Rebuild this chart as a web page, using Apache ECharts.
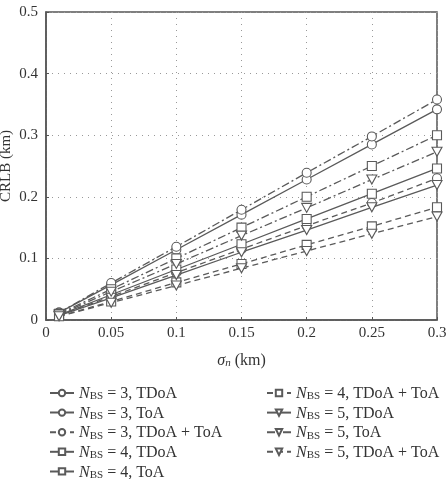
<!DOCTYPE html>
<html>
<head>
<meta charset="utf-8">
<script src="https://cdn.jsdelivr.net/npm/echarts@6/dist/echarts.min.js"></script>
<style>
html,body{margin:0;padding:0;background:#fff;}
#main{width:447px;height:479px;}
</style>
</head>
<body>
<div id="main"></div>
<script>
// sigma_n values (km)
var sigma = [0.01, 0.05, 0.1, 0.15, 0.2, 0.25, 0.3];

// CRLB (km)
var n3Tdoa    = [0.012, 0.057, 0.114, 0.171, 0.228, 0.285, 0.342];
var n3Toa     = [0.012, 0.060, 0.119, 0.179, 0.239, 0.298, 0.358];
var n3Both    = [0.008, 0.038, 0.077, 0.115, 0.153, 0.190, 0.230];
var n4Tdoa    = [0.008, 0.041, 0.082, 0.123, 0.164, 0.205, 0.246];
var n4Toa     = [0.010, 0.050, 0.100, 0.150, 0.200, 0.250, 0.300];
var n4Both    = [0.006, 0.030, 0.061, 0.091, 0.122, 0.152, 0.183];
var n5Tdoa    = [0.007, 0.036, 0.073, 0.110, 0.146, 0.183, 0.219];
var n5Toa     = [0.009, 0.046, 0.091, 0.137, 0.182, 0.228, 0.273];
var n5Both    = [0.006, 0.028, 0.056, 0.084, 0.112, 0.140, 0.168];

var xTicks = ['0', '0.05', '0.1', '0.15', '0.2', '0.25', '0.3'];

var FONT = 'Liberation Serif';
var GREY = '#5a5a5a';
var SOLID = 'solid';
var DASHDOT = [8, 3, 2, 3];
var DASHED = [6, 4];
var TRI_DOWN = 'path://M0,0 L10,0 L5,9 Z';

function mk(name, vals, symbol, lineType) {
    return {
        name: name,
        type: 'line',
        data: sigma.map(function (s, i) { return [s, vals[i]]; }),
        symbol: symbol,
        symbolSize: symbol == TRI_DOWN ? [10, 9] : 9,
        showSymbol: true,
        lineStyle: { color: GREY, width: 1.3, type: lineType },
        itemStyle: { color: '#fff', borderColor: GREY, borderWidth: 1.1 },
        emphasis: { disabled: true },
        z: 2
    };
}

var series = [
    mk('NBS = 3, TDoA', n3Tdoa, 'circle', SOLID),
    mk('NBS = 3, ToA', n3Toa, 'circle', DASHDOT),
    mk('NBS = 3, TDoA + ToA', n3Both, 'circle', DASHED),
    mk('NBS = 4, TDoA', n4Tdoa, 'rect', SOLID),
    mk('NBS = 4, ToA', n4Toa, 'rect', DASHDOT),
    mk('NBS = 4, TDoA + ToA', n4Both, 'rect', DASHED),
    mk('NBS = 5, TDoA', n5Tdoa, TRI_DOWN, SOLID),
    mk('NBS = 5, ToA', n5Toa, TRI_DOWN, DASHDOT),
    mk('NBS = 5, TDoA + ToA', n5Both, TRI_DOWN, DASHED)
];
var names = series.map(function (s) { return s.name; });

var legendRich = {
    i: { fontFamily: FONT, fontSize: 16, fontStyle: 'italic', color: '#333', lineHeight: 18, verticalAlign: 'bottom' },
    s: { fontFamily: FONT, fontSize: 11, color: '#333', lineHeight: 11, verticalAlign: 'bottom' },
    t: { fontFamily: FONT, fontSize: 16, color: '#333', lineHeight: 18, verticalAlign: 'bottom' }
};
function legendFmt(name) {
    return '{i|N}{s|BS}{t|' + name.substring(3) + '}';
}
function legendBox(left, data) {
    return {
        data: data,
        orient: 'vertical',
        left: left,
        top: 381,
        height: 120,
        itemWidth: 24,
        itemHeight: 8,
        itemGap: 3.6,
        formatter: legendFmt,
        textStyle: { rich: legendRich },
        selectedMode: false
    };
}

var myChart = echarts.init(document.getElementById('main'));
myChart.setOption({
    animation: false,
    backgroundColor: '#fff',
    grid: {
        left: 46, right: 10, top: 12, bottom: 159,
        show: true, borderColor: '#555', borderWidth: 1.5,
        outerBoundsMode: 'none',
        containLabel: false
    },
    legend: [
        legendBox(44, names.slice(0, 5)),
        legendBox(261, names.slice(5))
    ],
    xAxis: {
        type: 'value',
        min: 0, max: 0.3, interval: 0.05,
        name: '{g|σ}{n|n}{t| (km)}',
        nameLocation: 'middle',
        nameGap: 31,
        nameMoveOverlap: false,
        nameTextStyle: {
            rich: {
                g: { fontFamily: FONT, fontSize: 16, fontStyle: 'italic', color: '#333', lineHeight: 18, verticalAlign: 'bottom' },
                n: { fontFamily: FONT, fontSize: 11, fontStyle: 'italic', color: '#333', lineHeight: 11, verticalAlign: 'bottom' },
                t: { fontFamily: FONT, fontSize: 16, color: '#333', lineHeight: 18, verticalAlign: 'bottom' }
            }
        },
        axisLine: { show: true, lineStyle: { color: '#555', width: 1.5 } },
        axisTick: { show: true, inside: true, length: 3, lineStyle: { color: '#555' } },
        axisLabel: {
            fontFamily: FONT, fontSize: 15, color: '#333', margin: 6,
            formatter: function (v) {
                var idx = Math.round(v / 0.05);
                return xTicks[idx];
            }
        },
        splitLine: { show: true, lineStyle: { color: '#999', type: [1, 5], width: 1 } }
    },
    yAxis: {
        type: 'value',
        min: 0, max: 0.5, interval: 0.1,
        name: 'CRLB (km)',
        nameLocation: 'middle',
        nameGap: 32,
        nameMoveOverlap: false,
        nameTextStyle: { fontFamily: FONT, fontSize: 15, color: '#333' },
        axisLine: { show: true, lineStyle: { color: '#555', width: 1.5 } },
        axisTick: { show: true, inside: true, length: 3, lineStyle: { color: '#555' } },
        axisLabel: {
            fontFamily: FONT, fontSize: 15, color: '#333', margin: 8,
            formatter: function (v) { return v == 0 ? '0' : v.toFixed(1); }
        },
        splitLine: { show: true, lineStyle: { color: '#999', type: [1, 5], width: 1 } }
    },
    series: series
});
</script>
</body>
</html>
